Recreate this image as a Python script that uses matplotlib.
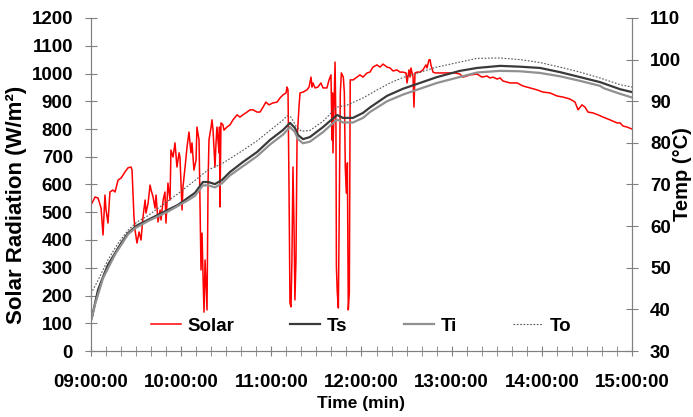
import matplotlib
matplotlib.use("Agg")
import matplotlib.pyplot as plt
from matplotlib.ticker import MultipleLocator

# minutes after 09:00 and readings
solar_pts = [
    (0, 530), (0.7, 533), (2.7, 555), (4.7, 551), (6.7, 515), (8, 418), (9.3, 562), (10, 508),
    (11.3, 461), (12.6, 573), (14.6, 580), (16, 573), (18, 616), (20, 623), (22.6, 645), (24.6, 660),
    (26.6, 663), (27.3, 652), (28.6, 483), (29.3, 436), (30.6, 389), (32, 429), (33.3, 400), (34.6, 483),
    (36, 544), (36.6, 497), (38, 533), (39.3, 598), (40, 580), (41.3, 555), (42.6, 515), (43.3, 562),
    (44.6, 465), (46, 508), (46.6, 472), (48, 544), (49.2, 573), (49.9, 461), (51.2, 605), (52.6, 544),
    (53.2, 724), (54.6, 699), (55.9, 750), (57.2, 663), (58.6, 714), (59.2, 699), (60.6, 508), (61.2, 591),
    (62.6, 663), (63.9, 735), (65.2, 789), (66.5, 714), (67.2, 750), (68.5, 652), (69.9, 688), (70.5, 807),
    (71.9, 760), (72.5, 533), (73.2, 292), (73.9, 425), (74.5, 281), (75.2, 140), (75.9, 328), (77.2, 148),
    (77.9, 605), (78.5, 760), (79.9, 807), (80.5, 833), (81.2, 796), (82.5, 663), (83.2, 750), (83.8, 807),
    (85.2, 714), (85.5, 807), (85.8, 519), (86.5, 822), (87.8, 815), (88.5, 796), (90.5, 807), (92.5, 815),
    (94.5, 833), (97.2, 851), (99.1, 843), (101.1, 851), (103.8, 861), (105.8, 869), (107.8, 869), (110.5, 861),
    (112.5, 861), (114.5, 879), (116.4, 897), (118.4, 887), (121.1, 894), (123.8, 897), (125.8, 912), (127.8, 923),
    (129.8, 930), (130.4, 951), (131.1, 941), (131.8, 569), (132.4, 173), (133.1, 159), (133.7, 328), (134.4, 663),
    (135.1, 447), (135.7, 184), (136.4, 328), (137.1, 760), (138.4, 879), (139.1, 930), (141.1, 933), (143.7, 941),
    (145.1, 951), (146.4, 987), (147.1, 951), (147.7, 966), (149.1, 948), (151, 951), (153, 966), (154.4, 948),
    (157, 948), (158.4, 977), (159.7, 995), (160.4, 760), (160.7, 930), (161, 714), (161.7, 879), (162.4, 1041),
    (163, 807), (163.3, 303), (163.9, 209), (164.6, 155), (165.3, 569), (165.9, 930), (166.6, 1002), (167.2, 995),
    (167.9, 987), (168.6, 930), (169.2, 663), (169.9, 569), (170.6, 678), (171.2, 148), (171.9, 209), (172.2, 569),
    (172.5, 977), (174.5, 977), (177, 987), (179, 995), (181, 987), (183.7, 1002), (185.6, 1005), (187.6, 1023),
    (190.3, 1031), (192.3, 1023), (194.3, 1034), (197, 1023), (199, 1020), (201, 1009), (203.6, 1013), (205.6, 1005),
    (207.6, 1005), (209.6, 1002), (210.3, 966), (211.6, 1013), (212.3, 987), (212.9, 1020), (214.3, 987), (214.9, 879),
    (215.6, 1002), (216.9, 1005), (218.9, 1005), (220.9, 1013), (222.9, 1031), (223.6, 1020), (224.9, 1049), (225.6, 1050),
    (226.2, 1031), (227.6, 1005), (228.9, 1002), (232.2, 1002), (235.6, 1002), (238.9, 1002), (242.2, 1002), (245.5, 998),
    (247.5, 987), (250.2, 991), (252.2, 995), (256.9, 998), (260.2, 987), (263.5, 991), (265.5, 984), (267.5, 987),
    (270.2, 980), (272.2, 984), (274.2, 973), (278.8, 966), (283.5, 966), (287.5, 955), (292.1, 948), (296.8, 941),
    (300.8, 933), (305.4, 930), (310.1, 919), (314.1, 915), (318.7, 908), (322.1, 897), (324.1, 869), (326.7, 887),
    (328.7, 879), (330.7, 861), (334, 858), (337.4, 851), (340.7, 843), (345.3, 833), (350, 822), (352, 822),
    (354, 811), (356.7, 807), (360, 800),
]

ts_pts = [
    (0, 37.5), (0.7, 38.2), (2.7, 41.5), (4.7, 44.7), (8, 47.8), (11.3, 50.7), (16, 53.5), (20, 55.9),
    (24.6, 58.3), (29.3, 59.8), (31.3, 60.3), (37.9, 61.5), (44.6, 62.7), (51.2, 63.9), (57.9, 65.1),
    (64.5, 66.8), (69.2, 68.0), (74.5, 70.6), (77.9, 70.6), (82.5, 70.1), (87.2, 71.1), (92.5, 73.0),
    (101.1, 75.4), (110.5, 77.8), (119.1, 80.7), (127.8, 83.1), (132.4, 84.8), (135.7, 83.6), (137.7, 81.9),
    (141.1, 80.9), (145.7, 81.4), (154.4, 83.8), (163.7, 86.7), (167.7, 86.0), (174.3, 86.0), (181, 87.2),
    (185.6, 88.5), (197, 91.3), (207.6, 93.0), (230.2, 95.8), (245.5, 97.3), (256.9, 98.0), (272.2, 98.5),
    (285.5, 98.3), (298.8, 98.0), (312, 97.0), (325.4, 95.8), (338.7, 94.6), (352, 92.9), (360, 92.2),
]

ti_pts = [
    (0, 37.2), (2.7, 41.2), (8, 47.5), (16, 53.2), (24.6, 58.0), (29.3, 59.5), (37.9, 61.2), (51.2, 63.5),
    (64.5, 66.2), (69.2, 67.3), (74.5, 69.8), (77.9, 69.8), (82.5, 69.3), (87.2, 70.3), (92.5, 72.2),
    (110.5, 76.8), (119.1, 79.6), (127.8, 82.0), (132.4, 83.8), (135.7, 82.6), (137.7, 80.9), (141.1, 79.9),
    (145.7, 80.3), (154.4, 82.6), (163.7, 85.6), (167.7, 84.9), (174.3, 84.9), (181, 86.0), (185.6, 87.4),
    (197, 90.0), (207.6, 91.6), (230.2, 94.4), (256.9, 96.9), (272.2, 97.3), (285.5, 97.2), (298.8, 96.8),
    (312, 96.0), (325.4, 94.9), (338.7, 93.7), (341.4, 93.1), (352, 91.8), (360, 90.9),
]

to_pts = [
    (0, 43.8), (4.7, 47.0), (11.3, 51.9), (18, 55.9), (24.6, 59.0), (30.6, 61.0), (37.9, 62.5), (44.6, 64.3),
    (57.9, 67.8), (69.2, 71.0), (77.9, 73.5), (87.2, 75.0), (101.1, 78.2), (110.5, 80.5), (119.1, 83.0),
    (127.8, 85.5), (130.4, 86.5), (133, 86.2), (136.5, 84.0), (140, 82.8), (145.7, 83.0), (154.4, 85.2),
    (163.7, 88.6), (170, 89.0), (181, 90.8), (190.3, 92.7), (199, 94.4), (207.6, 95.7), (230, 98.2),
    (256.9, 100.3), (272, 100.4), (285.5, 100.0), (298.8, 99.3), (312, 98.2), (325.4, 97.0), (338.7, 95.6),
    (352, 94.0), (360, 93.4),
]

hour_labels = ["09:00:00", "10:00:00", "11:00:00", "12:00:00", "13:00:00", "14:00:00", "15:00:00"]

plt.rcParams['font.family'] = ['Liberation Sans', 'DejaVu Sans']
plt.rcParams['font.weight'] = 'bold'
grey = '#808080'

fig = plt.figure(figsize=(6.93, 4.17), dpi=100)
ax = fig.add_axes([91 / 693, 1 - 351 / 417, 541 / 693, 333 / 417])
ax2 = ax.twinx()

sx, sy = zip(*solar_pts)
l1, = ax.plot(sx, sy, color='red', lw=1.1, label='Solar')
x, y = zip(*ts_pts)
l2, = ax2.plot(x, y, color='#3a3a3a', lw=1.6, label='Ts')
x, y = zip(*ti_pts)
l3, = ax2.plot(x, y, color='#909090', lw=1.6, label='Ti')
x, y = zip(*to_pts)
l4, = ax2.plot(x, y, color='#555555', lw=0.8, ls=(0, (1.5, 1.5)), label='To')

ax.set_xlim(0, 360)
ax.set_ylim(0, 1200)
ax2.set_ylim(30, 110)
ax.set_yticks(range(0, 1300, 100))
ax2.set_yticks(range(30, 111, 10))
ax.set_xticks(range(0, 361, 60))
ax.set_xticklabels(hour_labels)
ax.xaxis.set_minor_locator(MultipleLocator(10))

for a in (ax, ax2):
    for s in a.spines.values():
        s.set_color(grey)
    a.spines['top'].set_visible(False)
ax.tick_params(axis='x', which='both', direction='inout', length=7, color=grey, labelsize=13.5, pad=13)
ax.tick_params(axis='y', direction='inout', length=8, color=grey, labelsize=13.5, pad=9)
ax2.tick_params(axis='y', direction='inout', length=8, color=grey, labelsize=13.5, pad=9)

ax.set_xlabel("Time (min)", fontsize=12.5, fontweight='bold')
ax.xaxis.set_label_coords(0.5, -0.135)
ax.set_ylabel("Solar Radiation (W/m²)", fontsize=16, fontweight='bold')
ax.yaxis.set_label_coords(-0.118, 0.438)
ax2.set_ylabel("Temp (°C)", fontsize=14.5, fontweight='bold', rotation=90)
ax2.yaxis.set_label_coords(1.076, 0.53)

ax2.legend([l1, l2, l3, l4], ['Solar', 'Ts', 'Ti', 'To'], loc='center', bbox_to_anchor=(0.499, 0.075),
           ncol=4, frameon=False, fontsize=13.5, handlelength=1.6, handletextpad=0.35, columnspacing=3.0)

fig.savefig("out.png", dpi=100)
